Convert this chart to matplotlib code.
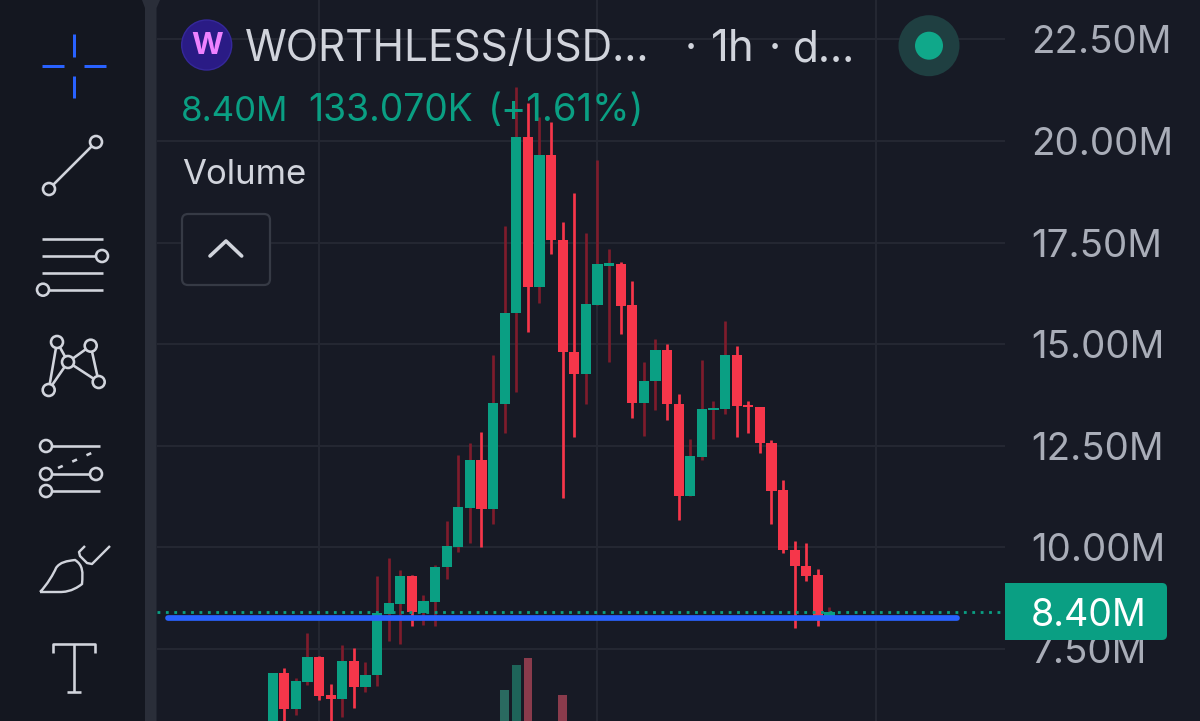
import matplotlib
matplotlib.use("Agg")
import matplotlib.pyplot as plt
from matplotlib.patches import Circle, Rectangle, FancyBboxPatch, Polygon, PathPatch
from matplotlib.path import Path

plt.rcParams['font.family'] = ['Inter', 'DejaVu Sans']

# ---- data (millions) ----
opens = [5.50, 6.91, 6.02, 6.69, 7.31, 6.37, 6.26, 7.21, 6.56, 6.86,
         8.36, 8.61, 9.29, 8.38, 8.65, 9.51, 10.01, 10.98, 12.14, 10.95,
         13.54, 15.76, 20.11, 16.40, 19.66, 17.56, 14.81, 14.27, 15.96, 16.93,
         16.97, 15.96, 13.56, 14.09, 14.86, 13.53, 11.27, 12.23, 13.37, 13.40,
         14.74, 13.50, 13.46, 12.58, 11.40, 9.93, 9.54, 9.32, 8.29]
closes = [6.91, 6.02, 6.71, 7.31, 6.35, 6.26, 7.21, 6.56, 6.87, 8.39,
          8.62, 9.29, 8.42, 8.68, 9.52, 10.03, 10.99, 12.14, 10.95, 13.55,
          15.77, 20.11, 16.40, 19.66, 17.56, 14.80, 14.27, 15.99, 16.97, 16.99,
          15.94, 13.56, 14.10, 14.86, 13.52, 11.27, 12.25, 13.41, 13.44, 14.74,
          13.48, 13.45, 12.56, 11.39, 9.93, 9.54, 9.30, 8.27, 8.42]
highs = [6.91, 7.03, 6.78, 7.89, 7.33, 6.64, 7.60, 7.52, 7.18, 9.29,
         9.75, 9.44, 9.32, 8.84, 9.57, 10.65, 12.27, 12.56, 12.85, 14.73,
         17.91, 21.33, 20.94, 20.59, 20.47, 18.01, 18.72, 17.74, 19.53, 17.34,
         17.02, 16.56, 14.55, 15.12, 15.00, 13.77, 12.67, 14.61, 13.60, 15.58,
         14.96, 13.60, 13.46, 12.64, 11.66, 10.16, 10.12, 9.48, 8.54]
lows = [5.50, 5.55, 5.87, 6.61, 6.24, 5.50, 5.82, 6.05, 6.44, 6.59,
        7.70, 7.62, 8.06, 8.09, 8.06, 9.22, 9.88, 10.10, 10.02, 10.57,
        12.81, 13.83, 15.31, 16.01, 17.22, 11.22, 12.71, 13.53, 15.96, 14.55,
        15.25, 13.19, 12.75, 13.37, 13.14, 10.67, 11.27, 12.15, 12.67, 13.27,
        12.72, 12.82, 12.33, 10.57, 9.85, 8.02, 9.17, 8.06, 8.29]
vol_index = [20, 21, 22, 25]
vol_values = [31, 56, 63, 26]
price_ticks = [7.5, 10, 12.5, 15, 17.5, 20, 22.5]
price_labels = ['7.50M', '10.00M', '12.50M', '15.00M', '17.50M', '20.00M', '22.50M']
time_ticks = [4, 28, 52]
last_price = 8.40
support_level = 8.27

# ---- colours ----
BG = '#171a25'
TOOL = '#141720'
STRIP = '#2a2e39'
GRID = '#252833'
GREEN = '#0a9f83'
RED = '#f6364a'
WICK_DARK = '#7e1c2c'
BLUE = '#2962ff'
ICON = '#d1d4dc'
AXTXT = '#a9adb8'
LIGHT = '#d1d4dc'
px = 0.72  # one pixel in points at dpi 100

fig = plt.figure(figsize=(12, 7.21), dpi=100, facecolor=BG)
rect = [157 / 1200, 0, (1005 - 157) / 1200, 1]

# volume pane (behind the candles)
av = fig.add_axes(rect, zorder=0, facecolor=BG)
av.set_xlim(-9.974, 63.13)
av.set_ylim(0, 721)
av.bar(vol_index, vol_values, width=0.73,
       color=['#2a6a60', '#1e6459', '#8a3b4c', '#8a3b4c'], linewidth=0)
av.axis('off')

# price pane
ax = fig.add_axes(rect, zorder=1)
ax.patch.set_visible(False)
ax.set_xlim(-9.974, 63.13)
ax.set_ylim(5.728, 23.469)
for s in ax.spines.values():
    s.set_visible(False)
ax.yaxis.tick_right()
ax.set_yticks(price_ticks)
ax.set_yticklabels(price_labels, fontsize=27.7, color=AXTXT)
ax.set_xticks(time_ticks)
ax.set_xticklabels([])
ax.tick_params(axis='both', length=0)
ax.tick_params(axis='y', pad=19)
ax.grid(True, color=GRID, linewidth=1.4)
ax.set_axisbelow(True)

x = list(range(len(opens)))
for i in x:
    up = closes[i] >= opens[i]
    ax.vlines(i, lows[i], highs[i], color=WICK_DARK if up else RED,
              linewidth=2.7 * px, zorder=2)
    ax.bar(i, abs(closes[i] - opens[i]), bottom=min(opens[i], closes[i]), width=0.89,
           color=GREEN if up else RED, linewidth=0, zorder=3)

ytr = ax.get_yaxis_transform()
ax.plot([0, 1], [last_price, last_price], transform=ytr, color=GREEN,
        linewidth=2.8 * px, linestyle=(0, (1, 2)), zorder=4)
ax.plot([0.013, 0.9434], [support_level, support_level], transform=ytr, color=BLUE,
        linewidth=5.7 * px, solid_capstyle='round', zorder=5)

# overlay in pixel space: toolbar, legend, price tag
ov = fig.add_axes([0, 0, 1, 1], zorder=5)
ov.patch.set_visible(False)
ov.set_xlim(0, 1200)
ov.set_ylim(721, 0)
ov.axis('off')

ov.add_patch(Rectangle((0, 0), 145, 721, color=TOOL, linewidth=0))
ov.add_patch(Polygon([(142, 0), (160, 0), (156.5, 8), (156.5, 721), (145, 721), (145, 8)],
                     closed=True, color=STRIP, linewidth=0))


def seg(pts, color=ICON, w=2.6, **kw):
    xs, ys = zip(*pts)
    ov.plot(xs, ys, color=color, linewidth=w * px, solid_capstyle=kw.pop('cap', 'butt'),
            solid_joinstyle='round', **kw)


def node(cx, cy, r=6):
    ov.add_patch(Circle((cx, cy), r, facecolor=TOOL, edgecolor=ICON,
                        linewidth=2.6 * px, zorder=6))


# crosshair
for p in ([(74, 34), (74, 57)], [(74, 76), (74, 98)], [(42, 66), (64, 66)], [(84, 66), (106, 66)]):
    seg(p, color=BLUE, w=3)
# trend line
seg([(49, 189), (96, 142)])
node(96, 142); node(49, 189)
# parallel lines
seg([(42, 239), (103, 239)])
seg([(42, 256), (100, 256)]); node(102, 256)
seg([(42, 273), (103, 273)])
seg([(45, 289.7), (103, 289.7)]); node(43, 289.7)
# pattern
for p in ([(48.7, 390), (57, 342)], [(48.7, 390), (68, 362)], [(68, 362), (57, 342)],
          [(68, 362), (90.7, 345.7)], [(90.7, 345.7), (98.7, 382)], [(68, 362), (98.7, 382)]):
    seg(p)
for c in [(48.7, 390), (57, 342), (68, 362), (90.7, 345.7), (98.7, 382)]:
    node(*c)
# fork
seg([(46, 446), (100, 446)]); node(46, 446)
ov.plot([58, 96], [468, 451], color=ICON, linewidth=2.6 * px, linestyle=(0, (2, 4)))
seg([(46, 474), (96, 474)]); node(46, 474); node(96, 474)
seg([(46, 491), (100, 491)]); node(46, 491)
# brush
brush = Path([(40, 592), (60, 592), (63, 592), (72, 592), (82, 584), (83, 572),
              (83, 565), (75, 560), (67, 561), (60, 562), (56, 568), (54, 573), (47, 585), (40, 592)],
             [Path.MOVETO, Path.LINETO, Path.CURVE4, Path.CURVE4, Path.CURVE4, Path.CURVE4,
              Path.CURVE4, Path.CURVE4, Path.CURVE4, Path.CURVE4, Path.CURVE4, Path.CURVE4,
              Path.LINETO, Path.LINETO])
ov.add_patch(PathPatch(brush, facecolor='none', edgecolor=ICON, linewidth=2.4 * px))
seg([(85, 546), (79, 552), (80, 556), (87, 563), (92, 564), (110, 546)], w=2.4)
# text tool
seg([(53.3, 653), (53.3, 644), (95, 644), (95, 653)])
seg([(74, 644), (74, 692)])
seg([(67, 692), (81, 692)])

# legend header
ov.add_patch(Circle((206.7, 45), 25, facecolor='#2a1b85', edgecolor='#35289a', linewidth=1))
ov.text(206.7, 45.5, 'W', color='#ee82ff', fontsize=22, fontweight='bold', ha='center', va='center')
ov.text(245, 61, 'WORTHLESS/USD...', color=LIGHT, fontsize=30.5, va='baseline', ha='left')
ov.text(685, 61, '·', color=LIGHT, fontsize=30.5, va='baseline', ha='left')
ov.text(711, 61, '1h', color=LIGHT, fontsize=31.5, va='baseline', ha='left')
ov.text(769, 61, '·', color=LIGHT, fontsize=30.5, va='baseline', ha='left')
ov.text(793, 61, 'd...', color=LIGHT, fontsize=30.5, va='baseline', ha='left')
ov.text(181, 120.7, '8.40M', color=GREEN, fontsize=25, va='baseline', ha='left')
ov.text(308, 120.7, '133.070K', color=GREEN, fontsize=26.8, va='baseline', ha='left')
ov.text(488, 120.7, '(+1.61%)', color=GREEN, fontsize=27.5, va='baseline', ha='left')
ov.text(182, 184, 'Volume', color=LIGHT, fontsize=25, va='baseline', ha='left')

# collapse button
ov.add_patch(FancyBboxPatch((186, 218), 80, 63, boxstyle='round,pad=4,rounding_size=6', mutation_scale=1,
                            facecolor=BG, edgecolor='#363a45', linewidth=2.2 * px, zorder=2))
seg([(210, 256), (226, 241), (241.7, 256)], w=3.6, cap='round', zorder=3)

# live dot
ov.add_patch(Circle((929, 45.7), 30.5, facecolor='#1f3f41', linewidth=0))
ov.add_patch(Circle((929, 45.7), 14, facecolor='#10a88a', linewidth=0))

# last price tag
ov.add_patch(FancyBboxPatch((1005, 583), 162, 57, boxstyle='round,pad=0,rounding_size=5',
                            mutation_scale=1, facecolor=GREEN, linewidth=0, zorder=7))
ov.add_patch(Rectangle((1005, 583), 100, 57, facecolor=GREEN, linewidth=0, zorder=7))
ov.text(1089, 612, '8.40M', color='white', fontsize=27, ha='center', va='center_baseline', zorder=8)

fig.savefig('out.png', dpi=100, facecolor=BG)
